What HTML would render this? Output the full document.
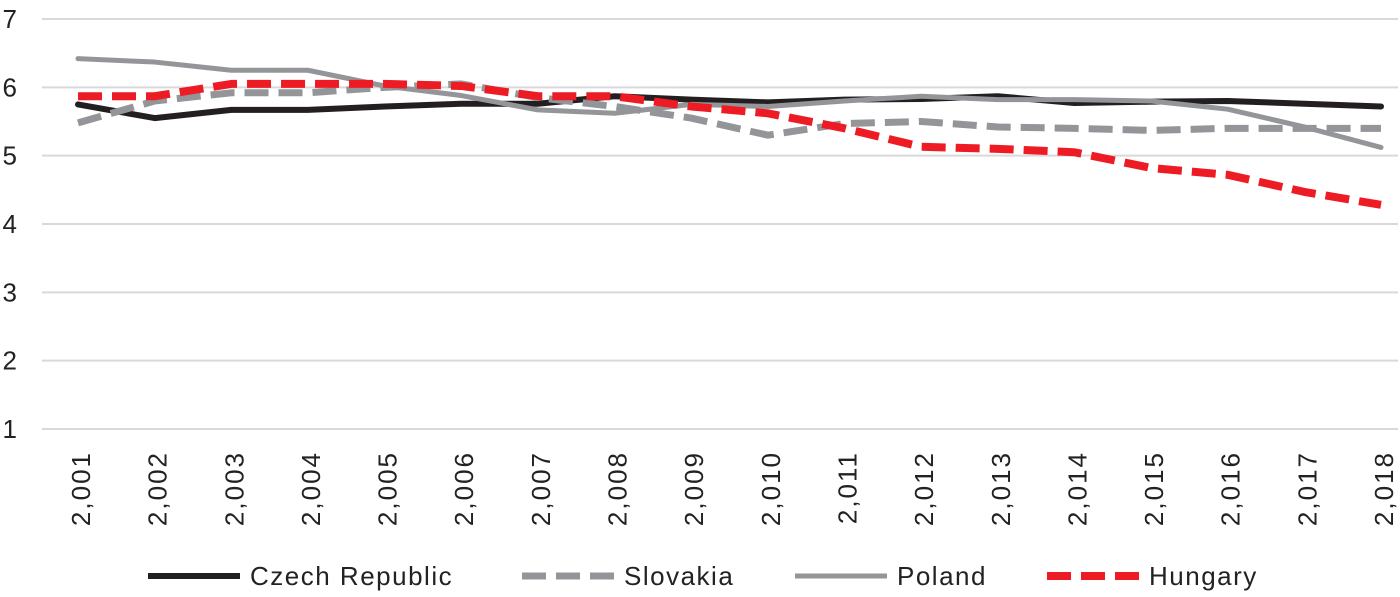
<!DOCTYPE html>
<html><head><meta charset="utf-8"><style>
body{margin:0;background:#fff;font-family:"Liberation Sans",sans-serif;}
svg text{font-family:"Liberation Sans",sans-serif;fill:#222;}
</style></head><body>
<svg id="c" width="1400" height="592"></svg>
<script>
const years=[2001,2002,2003,2004,2005,2006,2007,2008,2009,2010,2011,2012,2013,2014,2015,2016,2017,2018];
const yTicks=[1,2,3,4,5,6,7];
const czech=[5.75,5.55,5.67,5.67,5.72,5.76,5.76,5.87,5.82,5.78,5.82,5.83,5.87,5.77,5.79,5.80,5.76,5.72];
const slovakia=[5.48,5.80,5.92,5.92,6.0,6.05,5.85,5.72,5.55,5.30,5.47,5.50,5.42,5.40,5.37,5.40,5.40,5.40];
const poland=[6.42,6.37,6.25,6.25,6.02,5.88,5.67,5.62,5.75,5.72,5.80,5.87,5.82,5.82,5.80,5.68,5.42,5.12];
const hungary=[5.87,5.87,6.05,6.05,6.05,6.02,5.87,5.87,5.72,5.62,5.40,5.13,5.10,5.05,4.82,4.72,4.47,4.28];
const seriesNames=["Czech Republic","Slovakia","Poland","Hungary"];
const svg=document.getElementById('c');const NS='http://www.w3.org/2000/svg';
function X(i){return 78+i*(1381-78)/(years.length-1);}
function Y(v){return 429-(v-1)*(429-19)/6;}
function mk(t,a){const e=document.createElementNS(NS,t);for(const k in a)e.setAttribute(k,a[k]);svg.appendChild(e);return e;}
yTicks.forEach(v=>{
 if(v>1){const g=mk('line',{x1:42,x2:1398,y1:Y(v),y2:Y(v),stroke:'#d9d9d9','stroke-width':2});
 
 }
 const t=mk('text',{x:17,y:Y(v)+9,'text-anchor':'end','font-size':26});t.textContent=v;
 
 
});
const ax=mk('line',{x1:42,x2:1398,y1:Y(1),y2:Y(1),stroke:'#d9d9d9','stroke-width':2});


years.forEach((yr,i)=>{
 const t=mk('text',{x:0,y:0,'text-anchor':'end','font-size':26,'letter-spacing':2,transform:`translate(${X(i)+12},451) rotate(-90)`});
 t.textContent=yr.toLocaleString('en-US');
 
 
});
const styles=[
 {d:czech,c:'#231f20',w:6,da:''},
 {d:slovakia,c:'#939598',w:7,da:'24 10'},
 {d:poland,c:'#939598',w:5,da:''},
 {d:hungary,c:'#ed1c24',w:8,da:'24 10'}];
styles.forEach((s,k)=>{
 const p=mk('path',{d:s.d.map((v,i)=>(i?'L':'M')+X(i)+' '+Y(v)).join(''),fill:'none',stroke:s.c,'stroke-width':s.w,'stroke-dasharray':s.da,'stroke-linejoin':'round','stroke-linecap':s.da?'butt':'round'});
 
 
});
const lx=[148,522,795,1047];
styles.forEach((s,k)=>{
 const l=mk('line',{x1:lx[k],x2:lx[k]+92,y1:576,y2:576,stroke:s.c,'stroke-width':s.w,'stroke-dasharray':s.da});
 
 
 const t=mk('text',{x:lx[k]+102,y:585,'font-size':26,'letter-spacing':1.5});t.textContent=seriesNames[k];
 
 
});
</script>
</body></html>
